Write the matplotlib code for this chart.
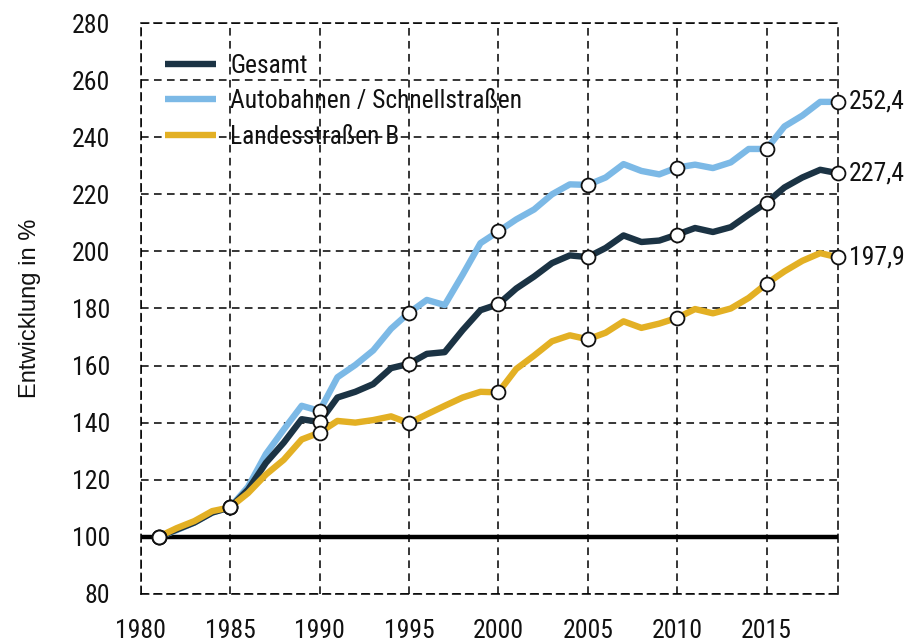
import matplotlib
matplotlib.use("Agg")
import matplotlib.pyplot as plt
from matplotlib import font_manager

# Data (index 1981 = 100)
years = list(range(1981, 2020))

gesamt = [100, 102.5, 105, 108.5, 110.3, 116.5, 125.9, 133, 141.2, 140.2,
          148.8, 150.8, 153.5, 159.1, 160.6, 164.1, 164.7, 172.4, 179.4, 181.5,
          187, 191.2, 195.9, 198.6, 198, 201.2, 205.6, 203.3, 203.8, 205.9,
          208.2, 206.8, 208.5, 212.9, 217.1, 222.4, 225.9, 228.6, 227.4]

autobahn = [100, 102.3, 105, 108.5, 110.3, 117.5, 129, 137.6, 145.9, 144.1,
            155.9, 160.2, 165.3, 172.9, 178.5, 183, 181.2, 191.8, 202.9, 207,
            211.2, 214.7, 220, 223.5, 223.3, 225.9, 230.6, 228.2, 227, 229.4,
            230.4, 229.2, 231.2, 235.9, 235.9, 243.8, 247.6, 252.4, 252.4]

landes = [100, 103, 105.5, 109, 110.3, 115.3, 121.8, 127, 134.1, 136.5,
          140.6, 140, 140.9, 142.2, 139.8, 142.9, 145.9, 148.8, 150.8, 150.6,
          158.8, 163.5, 168.5, 170.6, 169.2, 171.5, 175.5, 173.2, 174.7, 176.7,
          179.8, 178.3, 180, 183.7, 188.7, 193, 196.7, 199.4, 197.9]

marker_years = [1981, 1985, 1990, 1995, 2000, 2005, 2010, 2015, 2019]
end_labels = ["227,4", "252,4", "197,9"]

x_ticks = [1980, 1985, 1990, 1995, 2000, 2005, 2010, 2015]
y_ticks = list(range(80, 281, 20))

# pick a condensed face if one is installed
installed = {f.name for f in font_manager.fontManager.ttflist}
cands = ["Liberation Sans Narrow", "DejaVu Sans Condensed", "Roboto Condensed",
         "Open Sans Condensed", "Roboto"]
narrow = [f for f in cands if f in installed] + ["DejaVu Sans"]
plt.rcParams["font.family"] = narrow

fig = plt.figure(figsize=(9.08, 6.42), dpi=100)
ax = fig.add_axes([0.155, 0.075, 0.768, 0.889])

dash = (0, (5, 3.5))
ax.set_xlim(1980, 2019)
ax.set_ylim(80, 280)
ax.set_xticks(x_ticks)
ax.set_yticks(y_ticks)
ax.grid(True, color="black", linestyle=dash, linewidth=1.1)
for sp in ax.spines.values():
    sp.set_linestyle(dash)
    sp.set_linewidth(1.1)
ax.tick_params(length=0, labelsize=18.5, colors="#111111")
ax.tick_params(axis="y", pad=22)
ax.tick_params(axis="x", pad=18)

ax.axhline(100, color="black", linewidth=3.2, zorder=3)

series = [
    ("Autobahnen / Schnellstraßen", autobahn, "#7cb9e6"),
    ("Gesamt", gesamt, "#1b3344"),
    ("Landesstraßen B", landes, "#e3b024"),
]
handles = {}
for name, vals, col in series:
    line, = ax.plot(years, vals, color=col, linewidth=4.6, solid_capstyle="butt",
                    label=name, zorder=4)
    handles[name] = line

idx = [years.index(y) for y in marker_years]
for name, vals, col in series:
    ax.plot([years[i] for i in idx], [vals[i] for i in idx], linestyle="none",
            marker="o", markersize=10, markerfacecolor="white",
            markeredgecolor="#111111", markeredgewidth=1.3, zorder=6,
            clip_on=False)

for vals, txt in zip([gesamt, autobahn, landes], end_labels):
    ax.annotate(txt, (years[-1], vals[-1]), xytext=(7.5, 0),
                textcoords="offset points", va="center", ha="left",
                fontsize=18.5, color="#111111", annotation_clip=False)

order = ["Gesamt", "Autobahnen / Schnellstraßen", "Landesstraßen B"]
leg = ax.legend([handles[n] for n in order], order, loc="upper left",
                bbox_to_anchor=(0.02, 0.964), frameon=False, fontsize=18.4,
                handlelength=2.0, handletextpad=0.55, labelspacing=0.45,
                borderaxespad=0)
for t in leg.get_texts():
    t.set_color("#111111")

ax.set_ylabel("Entwicklung in %", fontsize=17, family=["Liberation Sans", "DejaVu Sans"],
              labelpad=22, color="#111111")

fig.savefig("out.png", dpi=100)
plt.close(fig)
